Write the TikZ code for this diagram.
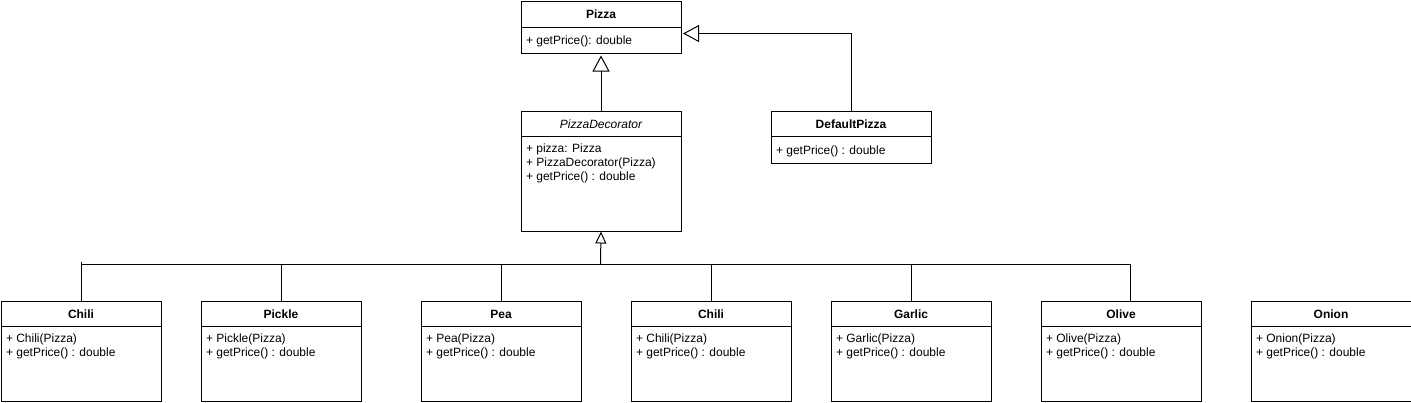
\documentclass[tikz,border=0pt]{standalone}
\usepackage{fontspec}
\setmainfont{Liberation Sans}
\usetikzlibrary{arrows.meta}

\begin{document}
\begin{tikzpicture}[
    x=1pt, y=-1pt,
    font=\fontsize{12}{14}\selectfont,
    line width=1pt, line join=miter,
    classbox/.style={draw, anchor=north west, inner sep=0pt,
      minimum width=160pt, minimum height=#1},
    classname/.style={anchor=base, font=\fontsize{12}{14}\selectfont\bfseries},
    members/.style={anchor=north west, align=left, inner sep=0pt,
      execute at begin node=\rule{0pt}{10pt}},
    inherit/.style={-{Triangle[open, length=16pt, width=17pt]}, shorten >=1.5pt},
    inheritsmall/.style={-{Triangle[open, length=12pt, width=11pt]}}]

  \useasboundingbox (0,0) rectangle (1411,402);

  % Pizza
  \node [classbox=52pt] (pizza) at (520.5,1) {};
  \node [classname] (pizzaname) at ([yshift=-17.5pt]pizza.north) {Pizza};
  \draw ([yshift=-26pt]pizza.north west) -- ([yshift=-26pt]pizza.north east);
  \node [members] (pizzamembers) at ([xshift=5pt, yshift=-33pt]pizza.north west)
    {+ getPrice(): double};

  % PizzaDecorator (abstract)
  \node [classbox=120pt] (deco) at (520.5,110.5) {};
  \node [classname, font=\fontsize{12}{14}\selectfont\itshape] (deconame)
    at ([yshift=-17.5pt]deco.north) {PizzaDecorator};
  \draw ([yshift=-26pt]deco.north west) -- ([yshift=-26pt]deco.north east);
  \node [members] (decomembers) at ([xshift=5pt, yshift=-33pt]deco.north west)
    {+ pizza: Pizza\\+ PizzaDecorator(Pizza)\\+ getPrice() : double};

  % DefaultPizza
  \node [classbox=52pt] (default) at (770.5,110.5) {};
  \node [classname] (defaultname) at ([yshift=-17.5pt]default.north) {DefaultPizza};
  \draw ([yshift=-26pt]default.north west) -- ([yshift=-26pt]default.north east);
  \node [members] (defaultmembers) at ([xshift=5pt, yshift=-33pt]default.north west)
    {+ getPrice() : double};

  % toppings
  \foreach \x/\n/\t in {0.5/chilia/Chili, 200.5/pickle/Pickle, 420.5/pea/Pea,
      630.5/chilib/Chili, 830.5/garlic/Garlic, 1040.5/olive/Olive, 1250.5/onion/Onion}{
    \node [classbox=100pt] (\n) at (\x,300.5) {};
    \node [classname] (\n name) at ([yshift=-17.5pt]\n.north) {\t};
    \draw ([yshift=-26pt]\n.north west) -- ([yshift=-26pt]\n.north east);
    \node [members] (\n members) at ([xshift=5pt, yshift=-33pt]\n.north west)
      {+ \t(Pizza)\\+ getPrice() : double};
  }

  % inheritance
  \draw [inherit] (deco.north) -- (pizza.south);
  \draw [inherit] (default.north) |- ([yshift=-6pt]pizza.east);

  \coordinate (bus) at (600.5,264.5);
  \coordinate (busL) at (80.5,264.5);
  \coordinate (busR) at (1130.5,264.5);
  \draw [inheritsmall] (bus) -- (deco.south);
  \draw (busL) -- (busR);
  \draw (chilia.north) -- ([yshift=3pt]chilia.north |- bus);
  \foreach \n in {pickle, pea, chilib, garlic}
    \draw (\n.north) -- (\n.north |- bus);
  \draw (busR) -- (busR |- olive.north);
\end{tikzpicture}
\end{document}
